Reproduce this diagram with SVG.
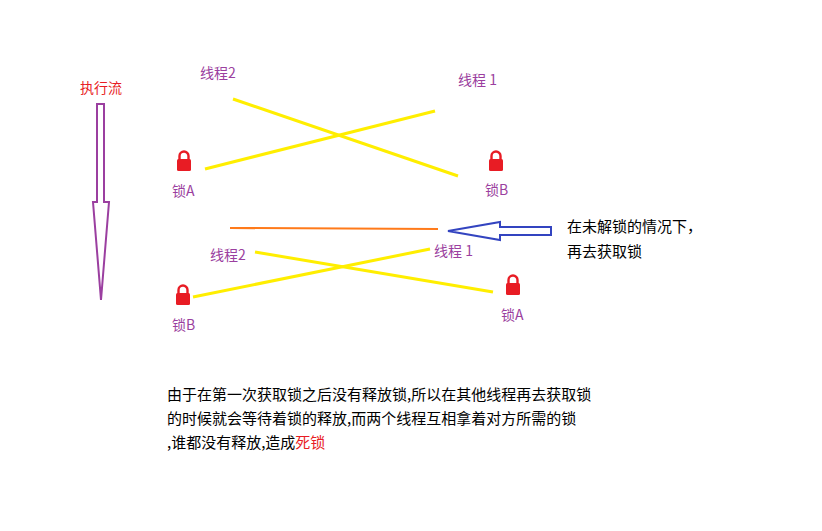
<svg xmlns="http://www.w3.org/2000/svg" width="822" height="531" viewBox="0 0 822 531">
<defs>
<style>
text{font-family:"Microsoft YaHei","Noto Sans CJK SC",sans-serif;font-size:14px}
.p{fill:#9b3fa0}
.b{font-size:15px}
.y{stroke:#ffee00;stroke-width:3;fill:none}
</style>
<g id="lock"><path d="M-4.5,0 v-4 a4.5,4.5 0 0 1 9,0 v4" fill="none" stroke="#e81c24" stroke-width="2.4"/><rect x="-7" y="-1" width="14" height="12" rx="1.5" fill="#e81c24"/></g>
</defs>
<rect width="822" height="531" fill="#fff"/>
<g id="flow">
<text x="80" y="93" fill="#e81c24">执行流</text>
<path d="M97,104 H104 V202 H109 L101,300 L93,202 H97 Z" fill="none" stroke="#9b3fa0" stroke-width="2"/>
</g>
<g id="connectors">
<line class="y" x1="233" y1="99" x2="458" y2="176"/>
<line class="y" x1="205" y1="169" x2="435" y2="111"/>
<line class="y" x1="255" y1="252" x2="493" y2="292"/>
<line class="y" x1="193" y1="297" x2="430" y2="249"/>
<line x1="230" y1="228" x2="438" y2="229" stroke="#ff7a1a" stroke-width="2"/>
<path d="M448,231 L500,222 V227 H551 V235 H500 V240 Z" fill="none" stroke="#3344c0" stroke-width="2"/>
</g>
<g id="top">
<text class="p" x="200" y="78">线程2</text>
<text class="p" x="458" y="85">线程 1</text>
<use href="#lock" x="184" y="160"/>
<text class="p" x="172" y="196">锁A</text>
<use href="#lock" x="496" y="160"/>
<text class="p" x="485" y="195">锁B</text>
</g>
<g id="bottom">
<text class="p" x="210" y="260">线程2</text>
<text class="p" x="434" y="256">线程 1</text>
<use href="#lock" x="183" y="294"/>
<text class="p" x="172" y="330">锁B</text>
<use href="#lock" x="513" y="284"/>
<text class="p" x="501" y="320">锁A</text>
</g>
<g id="note">
<text class="b" x="567" y="232">在未解锁的情况下，</text>
<text class="b" x="567" y="257">再去获取锁</text>
<text class="b" x="167" y="400">由于在第一次获取锁之后没有释放锁,所以在其他线程再去获取锁</text>
<text class="b" x="167" y="424">的时候就会等待着锁的释放,而两个线程互相拿着对方所需的锁</text>
<text class="b" x="167" y="448">,谁都没有释放,造成<tspan fill="#e81c24">死锁</tspan></text>
</g>
</svg>
